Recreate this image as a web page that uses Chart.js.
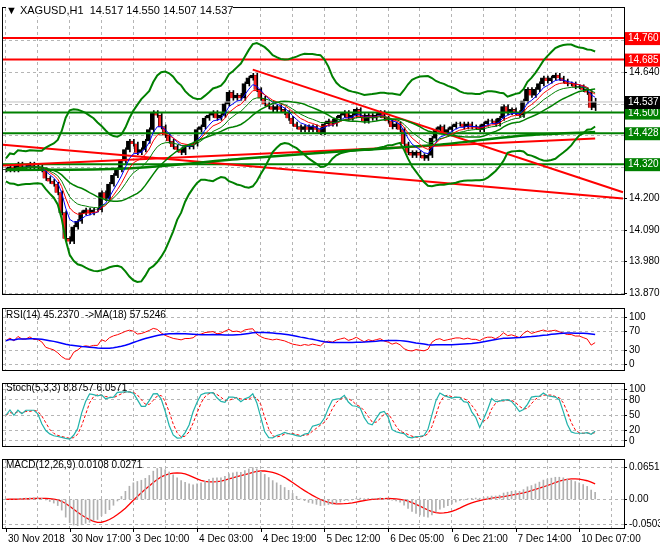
<!DOCTYPE html>
<html><head><meta charset="utf-8">
<script src="https://cdn.jsdelivr.net/npm/chart.js@4.4.1/dist/chart.umd.min.js"></script>
<style>
body{margin:0;background:#fff;width:660px;height:550px;overflow:hidden;position:relative;font-family:"Liberation Sans",sans-serif}
canvas{position:absolute;left:0}
#title{position:absolute;left:6px;top:4px;font:11px "Liberation Sans";color:#000;background:#fff}
.ind{position:absolute;left:6px;font:10px "Liberation Sans";color:#000}
</style></head><body>
<canvas id="cMain" style="top:0px" width="660" height="302"></canvas>
<canvas id="cRsi" style="top:301px" width="660" height="77"></canvas>
<canvas id="cSto" style="top:376px" width="660" height="78"></canvas>
<canvas id="cMacd" style="top:452px" width="660" height="98"></canvas>
<div id="title">▼ XAGUSD,H1 &nbsp;14.517 14.550 14.507 14.537</div>
<div class="ind" style="top:309px">RSI(14) 45.2370 &nbsp;-&gt;MA(18) 57.5246</div>
<div class="ind" style="top:382px">Stoch(5,3,3) 8.8757 6.0571</div>
<div class="ind" style="top:459px">MACD(12,26,9) 0.0108 0.0271</div>
<script>
const closes=[14.30,14.31,14.30,14.32,14.31,14.31,14.32,14.31,14.31,14.30,
14.27,14.26,14.25,14.22,14.15,14.06,
14.05,14.10,14.12,14.15,14.16,14.15,14.16,14.16,
14.22,14.20,14.25,14.28,14.30,14.33,14.37,14.40,
14.39,14.36,14.37,14.40,14.44,14.50,14.49,14.45,14.42,
14.40,14.38,14.37,14.36,14.38,14.38,14.39,14.44,
14.45,14.48,14.49,14.50,14.48,14.49,14.53,14.57,
14.55,14.56,14.55,14.60,14.62,14.63,14.58,
14.55,14.53,14.52,14.51,14.52,14.51,14.50,14.48,14.46,
14.45,14.44,14.45,14.44,14.45,14.44,14.43,
14.46,14.47,14.46,14.48,14.49,14.50,14.48,14.49,14.51,
14.49,14.47,14.49,14.48,14.49,14.50,14.48,14.47,
14.45,14.46,14.44,14.39,14.36,14.35,14.36,14.35,14.34,14.35,
14.41,14.44,14.45,14.43,14.44,
14.45,14.46,14.46,14.45,14.46,14.45,14.45,14.44,14.46,
14.47,14.47,14.46,14.48,14.52,14.50,14.51,14.50,14.49,
14.54,14.58,14.56,14.58,14.60,
14.62,14.61,14.62,14.63,14.62,14.61,
14.60,14.60,14.59,14.59,14.58,14.57,14.517,14.537];
const firstOpen=14.30;
const lastHigh=14.550, lastLow=14.507;
const wick=0.007;
const xLabels=["30 Nov 2018","30 Nov 17:00","3 Dec 10:00","4 Dec 03:00","4 Dec 19:00","5 Dec 12:00","6 Dec 05:00","6 Dec 21:00","7 Dec 14:00","10 Dec 07:00"];
const priceTicks=[13.870,13.980,14.090,14.200,14.310,14.420,14.530,14.640,14.750];
const redLevels=[14.760,14.685];
const greenLevels=[14.500,14.428,14.320];
const trendDown1=[{x:-1,y:14.388},{x:155,y:14.200}];
const trendUp=[{x:-1,y:14.315},{x:148,y:14.410}];
const trendDown2=[{x:62,y:14.650},{x:155,y:14.222}];
const slowMA=[{x:0,y:14.300},{x:30,y:14.305},{x:60,y:14.340},{x:90,y:14.370},{x:110,y:14.390},{x:130,y:14.420},{x:148,y:14.432}];

const N=closes.length;
const opens=closes.map((c,i)=>i?closes[i-1]:firstOpen);
const highs=closes.map((c,i)=>i===N-1?lastHigh:Math.max(c,opens[i])+wick);
const lows=closes.map((c,i)=>i===N-1?lastLow:Math.min(c,opens[i])-wick);
function sma(a,p){return a.map((v,i)=>{const s=a.slice(Math.max(0,i-p+1),i+1);return s.reduce((x,y)=>x+y,0)/s.length;});}
function ema(a,p){const k=2/(p+1);let e=a[0];return a.map(v=>e=v*k+e*(1-k));}
function sd(a,p){return a.map((v,i)=>{const s=a.slice(Math.max(0,i-p+1),i+1);const m=s.reduce((x,y)=>x+y,0)/s.length;return Math.sqrt(s.reduce((x,y)=>x+(y-m)**2,0)/s.length);});}
const pts=a=>a.map((v,i)=>({x:i,y:v}));
const bbM=sma(closes,20),bbS=sd(closes,20);
const bbU=bbM.map((m,i)=>m+2.5*bbS[i]+0.04),bbL=bbM.map((m,i)=>m-2.5*bbS[i]-0.04);
const ma1=ema(closes,5),ma2=ema(closes,8),ma3=ema(closes,13);
let ag=0.003,al=0.003;const rsi=closes.map((c,i)=>{if(i){const d=c-closes[i-1];ag=(ag*13+Math.max(d,0))/14;al=(al*13+Math.max(-d,0))/14;}return 100-100/(1+ag/al);});
const rsiMA=sma(rsi,18);
const kRaw=closes.map((c,i)=>{const h=Math.max(...highs.slice(Math.max(0,i-4),i+1)),l=Math.min(...lows.slice(Math.max(0,i-4),i+1));return (c-l)/(h-l)*100;});
const kS=sma(kRaw,3),dS=sma(kS,3);
const e12=ema(closes,12),e26=ema(closes,26);const macd=e12.map((v,i)=>v-e26[i]);const sig=sma(macd,9);

const XMIN=-0.75,XMAX=155.25;
const gridCol='#b5b5b5';
function xScale(){return {type:'linear',offset:false,min:XMIN,max:XMAX,afterBuildTicks:s=>{s.ticks=[];for(let v=0;v<=152;v+=8)s.ticks.push({value:v});},
 afterFit:s=>{s.height=0;},
 grid:{color:gridCol,drawTicks:false,offset:false},border:{display:false,dash:[3,3]},ticks:{display:false,padding:0}};}
function yScale(min,max,ticks,fmt){return {type:'linear',position:'right',min,max,afterBuildTicks:s=>{s.ticks=ticks.map(v=>({value:v}));},
 afterFit:s=>{s.width=36;},grid:{color:gridCol,drawTicks:true,tickLength:3,tickColor:'#000'},border:{display:false,dash:[3,3]},
 ticks:{color:'#000',font:{family:'Liberation Sans',size:10},padding:2,callback:fmt}};}
Chart.defaults.animation=false;Chart.defaults.responsive=false;
Chart.defaults.scale.grid.borderDash=[3,3];
const frame={id:'frame',afterDraw(c){const a=c.chartArea,g=c.ctx;g.save();g.strokeStyle='#000';g.lineWidth=1;g.strokeRect(a.left-0.5,a.top-0.5,a.right-a.left+1,a.bottom-a.top+1);g.restore();}};
const common={plugins:{legend:{display:false},tooltip:{enabled:false}},events:[],layout:{padding:{left:3,top:3,bottom:2,right:0}}};
const lineDS=(d,col,w,extra)=>Object.assign({type:'line',data:d,borderColor:col,borderWidth:w,pointRadius:0,fill:false,tension:0},extra||{});
const boxes={id:'boxes',afterDraw(c){const g=c.ctx,y=c.scales.y,a=c.chartArea;g.save();g.font='10px "Liberation Sans"';g.textBaseline='middle';
 const item=(v,bg,fg)=>{const p=y.getPixelForValue(v);g.fillStyle=bg;g.fillRect(a.right+1,p-6,36,13);g.fillStyle=fg;g.fillText(v.toFixed(3),a.right+4,p+0.5);};
 redLevels.forEach(v=>item(v,'#ff0000','#fff'));greenLevels.forEach(v=>item(v,'#008000','#fff'));item(closes[N-1],'#000','#fff');g.restore();}};
const dsMain=[
 {type:'bar',data:closes.map((c,i)=>({x:i,y:[lows[i],highs[i]]})),backgroundColor:'#000',barThickness:1,order:5},
 {type:'bar',data:closes.map((c,i)=>({x:i,y:[Math.min(opens[i],c),Math.max(opens[i],c)+0.001]})),backgroundColor:closes.map((c,i)=>c>=opens[i]?'#000':'#ff2020'),borderColor:'#000',borderWidth:0.6,barThickness:3,order:4},
 lineDS(pts(bbU),'#008000',2),lineDS(pts(bbL),'#008000',2),lineDS(pts(bbM),'#008000',1.5),
 lineDS(pts(ma3),'#008000',1),lineDS(pts(ma2),'#ff0000',1),lineDS(pts(ma1),'#0000ff',1),
 lineDS(slowMA,'#008000',2.5,{tension:0.3}),
 lineDS(trendDown1,'#ff0000',2),lineDS(trendUp,'#ff0000',2),lineDS(trendDown2,'#ff0000',2),
 ...redLevels.map(v=>lineDS([{x:XMIN,y:v},{x:XMAX,y:v}],'#ff0000',2)),
 ...greenLevels.map(v=>lineDS([{x:XMIN,y:v},{x:XMAX,y:v}],'#008000',2)),
 lineDS([{x:XMIN,y:closes[N-1]},{x:XMAX,y:closes[N-1]}],'#c0c0c0',1)
];
new Chart(cMain,{type:'bar',data:{datasets:dsMain},options:Object.assign({},common,{
 scales:{x:xScale(),y:yScale(13.867,14.865,priceTicks,v=>v.toFixed(3))}}),plugins:[frame,boxes]});
new Chart(cRsi,{type:'line',data:{datasets:[lineDS(pts(rsiMA),'#0000ff',1.5),lineDS(pts(rsi),'#ff0000',1)]},
 options:Object.assign({},common,{scales:{x:xScale(),y:yScale(-12.5,117.8,[0,30,70,100],v=>v)}}),plugins:[frame]});
new Chart(cSto,{type:'line',data:{datasets:[lineDS(pts(kS),'#20b2aa',1.2),lineDS(pts(dS),'#ff0000',1,{borderDash:[3,2]})]},
 options:Object.assign({},common,{scales:{x:xScale(),y:yScale(-10,111,[0,20,50,80,100],v=>v)}}),plugins:[frame]});
const xlab={id:'xlab',afterDraw(c){const g=c.ctx,x=c.scales.x,a=c.chartArea;g.save();g.font='10px "Liberation Sans"';g.fillStyle='#000';g.textBaseline='top';
 xLabels.forEach((t,k)=>{const p=x.getPixelForValue(k*16);g.fillRect(Math.round(p),a.bottom,1,4);g.fillText(t,p+2,a.bottom+6);});g.restore();}};
new Chart(cMacd,{type:'bar',data:{datasets:[
 {type:'bar',data:pts(macd),backgroundColor:'#b0b0b0',barThickness:1},
 lineDS(pts(sig),'#ff0000',1.3)]},
 options:Object.assign({},common,{layout:{padding:{left:3,top:2,bottom:22,right:0}},scales:{x:xScale(),y:yScale(-0.0577,0.0798,[-0.0503,0,0.0651],v=>v===0?'0.00':v.toFixed(4))}}),plugins:[frame,xlab]});
</script></body></html>
